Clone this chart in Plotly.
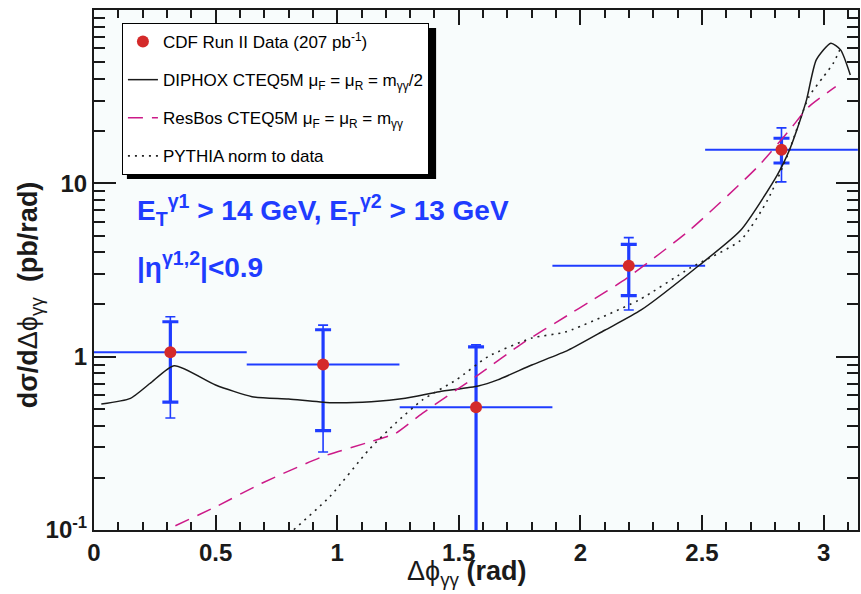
import plotly.graph_objects as go
import numpy as np

# ---------------- data ----------------
bin_centers = [0.314, 0.942, 1.571, 2.199, 2.827]
bin_halfwidth = [0.314, 0.314, 0.314, 0.314, 0.314]
data_y = [1.06, 0.90, 0.51, 3.35, 15.6]
inner_hi = [1.59, 1.43, 1.14, 4.45, 18.2]
inner_lo = [0.546, 0.374, 0.05, 2.25, 13.1]
outer_hi = [1.70, 1.52, 1.17, 4.86, 20.9]
outer_lo = [0.443, 0.282, 0.05, 1.86, 10.2]

diphox_x = [0.03, 0.15, 0.23, 0.33, 0.50, 0.65, 0.80, 0.97, 1.14, 1.28, 1.42, 1.58, 1.66,
            1.80, 1.95, 2.10, 2.25, 2.49, 2.66, 2.81, 2.86, 2.89, 2.93, 2.97, 3.03, 3.07, 3.11]
diphox_y = [0.533, 0.575, 0.70, 0.887, 0.687, 0.588, 0.570, 0.543, 0.55, 0.575, 0.628, 0.678, 0.735,
            0.895, 1.09, 1.42, 1.86, 3.38, 5.38, 11.2, 15.6, 20.3, 30.3, 51.5, 64.3, 58.9, 42.2]

resbos_x = [0.25, 0.30, 0.50, 0.69, 0.94, 1.14, 1.24, 1.35, 1.57, 1.76, 1.95, 2.04, 2.19,
            2.45, 2.73, 2.86, 2.94, 3.05]
resbos_y = [0.09, 0.10, 0.136, 0.186, 0.265, 0.324, 0.361, 0.471, 0.767, 1.19, 1.74, 2.08, 2.83,
            5.38, 12.5, 20.3, 27.7, 36.1]

pythia_x = [0.80, 0.82, 0.97, 1.13, 1.24, 1.35, 1.49, 1.62, 1.80, 1.94, 2.24, 2.45, 2.66,
            2.77, 2.85, 2.94, 3.00, 3.04, 3.07]
pythia_y = [0.095, 0.10, 0.156, 0.290, 0.413, 0.562, 0.735, 1.0, 1.28, 1.39, 2.12, 3.24, 4.71,
            8.02, 14.3, 31.6, 41.3, 49.3, 60.3]

y_tickvals = [0.1, 1, 10]
y_ticktext = ["10<sup>-1</sup>", "1", "10"]
x_tickvals = [0, 0.5, 1, 1.5, 2, 2.5, 3]
x_ticktext = ["0", "0.5", "1", "1.5", "2", "2.5", "3"]

# ---------------- styling ----------------
BLUE = "#1f3cff"
RED = "#d42a2a"
MAG = "#cc1a88"
FONT = "Liberation Sans"

fig = go.Figure()

y = np.array(data_y)
# outer error bars + horizontal bin widths
fig.add_trace(go.Scatter(
    x=bin_centers, y=data_y, mode="markers",
    marker=dict(size=1, color="rgba(0,0,0,0)"),
    error_y=dict(type="data", array=list(np.array(outer_hi) - y),
                 arrayminus=list(y - np.array(outer_lo)),
                 color=BLUE, thickness=1.6, width=5),
    error_x=dict(type="data", array=bin_halfwidth, color=BLUE, thickness=2, width=0),
    showlegend=False, hoverinfo="skip"))
# inner error bars
fig.add_trace(go.Scatter(
    x=bin_centers, y=data_y, mode="markers",
    marker=dict(size=1, color="rgba(0,0,0,0)"),
    error_y=dict(type="data", array=list(np.array(inner_hi) - y),
                 arrayminus=list(y - np.array(inner_lo)),
                 color=BLUE, thickness=3.2, width=8),
    showlegend=False, hoverinfo="skip"))

fig.add_trace(go.Scatter(
    x=diphox_x, y=diphox_y, mode="lines", line=dict(color="#1a1a1a", width=1.5, shape="spline", smoothing=0.6),
    name="DIPHOX CTEQ5M μ<sub>F</sub> = μ<sub>R</sub> = m<sub>γγ</sub>/2", legendrank=2, legendgroup="b"))
fig.add_trace(go.Scatter(
    x=resbos_x, y=resbos_y, mode="lines", line=dict(color=MAG, width=1.5, dash="15px,9px", shape="spline", smoothing=0.6),
    name="ResBos CTEQ5M μ<sub>F</sub> = μ<sub>R</sub> = m<sub>γγ</sub>", legendrank=3, legendgroup="c"))
fig.add_trace(go.Scatter(
    x=pythia_x, y=pythia_y, mode="lines", line=dict(color="#222222", width=1.6, dash="2px,5px", shape="spline", smoothing=0.6),
    name="PYTHIA norm to data", legendrank=4, legendgroup="d"))

fig.add_trace(go.Scatter(
    x=bin_centers, y=data_y, mode="markers",
    marker=dict(size=12, color=RED),
    name="CDF Run II Data (207 pb<sup>-1</sup>)", legendrank=1, legendgroup="a"))

W, H = 861, 594
L, R, T, B = 94, 1, 10, 64
pw, ph = W - L - R, H - T - B

def px2paper(px, py):
    return (px - L) / pw, (H - B - py) / ph

# legend shadow
lx0, ly0 = px2paper(127, 28)
lx1, ly1 = px2paper(437, 179)
shapes = [dict(type="rect", xref="paper", yref="paper", x0=lx0, x1=lx1, y0=ly1, y1=ly0,
               fillcolor="black", line=dict(width=0), layer="above")]

tickfont = dict(family=FONT, size=24, color="#1a1a1a", weight="bold")

fig.update_layout(
    width=W, height=H,
    margin=dict(l=L, r=R, t=T, b=B),
    paper_bgcolor="white", plot_bgcolor="#f8fcfc",
    font=dict(family=FONT, color="black"),
    showlegend=True,
    legend=dict(x=px2paper(122, 0)[0], y=px2paper(0, 23)[1], xanchor="left", yanchor="top",
                bgcolor="white", bordercolor="black", borderwidth=1,
                font=dict(family=FONT, size=17, color="black"),
                traceorder="grouped", tracegroupgap=13, itemwidth=30),
    xaxis=dict(range=[0, 3.1416], tickvals=x_tickvals, ticktext=x_ticktext,
               ticks="inside", ticklen=15, tickwidth=2, tickcolor="#1a1a1a",
               showline=True, linecolor="#1a1a1a", linewidth=2, mirror="ticks",
               showgrid=False, zeroline=False, tickfont=tickfont,
               minor=dict(dtick=0.1, ticks="inside", ticklen=8, tickwidth=1.5, tickcolor="#1a1a1a", showgrid=False)),
    yaxis=dict(type="log", range=[-1, 2], tickvals=y_tickvals, ticktext=y_ticktext,
               ticks="inside", ticklen=22, tickwidth=2, tickcolor="#1a1a1a",
               showline=True, linecolor="#1a1a1a", linewidth=2, mirror="ticks",
               showgrid=False, zeroline=False, tickfont=tickfont,
               minor=dict(dtick="D1", ticks="inside", ticklen=11, tickwidth=1.5, tickcolor="#1a1a1a", showgrid=False)),
    shapes=shapes,
    annotations=[
        dict(xref="paper", yref="paper", x=px2paper(468, 0)[0], y=px2paper(0, 573)[1],
             text="Δϕ<sub>γγ</sub> <b>(rad)</b>", showarrow=False, xanchor="center", yanchor="middle",
             font=dict(family=FONT, size=27, color="#1a1a1a")),
        dict(xref="paper", yref="paper", x=px2paper(30, 0)[0], y=px2paper(0, 295)[1],
             text="<b>dσ/d</b>Δϕ<sub>γγ</sub>  <b>(pb/rad)</b>", showarrow=False, textangle=-90,
             xanchor="center", yanchor="middle",
             font=dict(family=FONT, size=27, color="#1a1a1a")),
        dict(xref="paper", yref="paper", x=px2paper(135, 0)[0], y=px2paper(0, 210)[1],
             text="E<sub>T</sub><sup>γ1</sup> > 14 GeV, E<sub>T</sub><sup>γ2</sup> > 13 GeV",
             showarrow=False, xanchor="left", yanchor="middle",
             font=dict(family=FONT, size=28, color=BLUE, weight="bold")),
        dict(xref="paper", yref="paper", x=px2paper(135, 0)[0], y=px2paper(0, 265)[1],
             text="|η<sup>γ1,2</sup>|<0.9",
             showarrow=False, xanchor="left", yanchor="middle",
             font=dict(family=FONT, size=28, color=BLUE, weight="bold")),
    ],
)

fig.write_html("out.html")
